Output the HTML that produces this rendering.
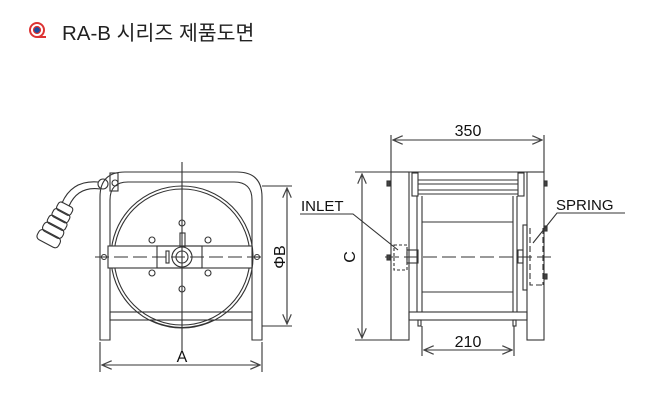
<!DOCTYPE html>
<html><head><meta charset="utf-8"><style>
body{margin:0;background:#fff;width:653px;height:407px;overflow:hidden;font-family:"Liberation Sans","Noto Sans CJK KR",sans-serif}
.t{position:absolute;left:62px;top:16px;font-size:20.5px;color:#222;font-family:"Liberation Sans","Noto Sans CJK KR",sans-serif}
</style></head><body>
<div class="t">RA-B 시리즈 제품도면</div>
<svg width="653" height="407" style="position:absolute;left:0;top:0" fill="none" stroke="#333" stroke-width="1.1">
<defs><marker id="a" markerWidth="10" markerHeight="8" refX="9" refY="4" orient="auto-start-reverse"><path d="M0,0L9,4L0,8" stroke="#444" fill="none"/></marker></defs>
<!-- icon -->
<circle cx="37" cy="30" r="7" stroke="#d33" stroke-width="2"/><circle cx="37" cy="30" r="3.5" fill="#1a4ea0" stroke="#d33" stroke-width="1.2"/><path d="M37,37H46" stroke="#d33" stroke-width="2"/>
<!-- LEFT VIEW -->
<path d="M100,340V197Q100,172 125,172H237Q262,172 262,197V340H252V200Q252,182 234,182H128Q110,182 110,200V340Z"/>
<circle cx="182" cy="257" r="71"/><circle cx="182" cy="257" r="68"/>
<path d="M150,320Q182,335 214,320"/>
<rect x="108" y="246" width="144" height="22" fill="#fff"/>
<rect x="157" y="246" width="45" height="22"/>
<circle cx="182" cy="257" r="10"/><circle cx="182" cy="257" r="6"/>
<rect x="180" y="233" width="5" height="14"/><rect x="166" y="251" width="3" height="12"/>
<g><circle cx="182" cy="223" r="3"/><circle cx="152" cy="240" r="3"/><circle cx="208" cy="240" r="3"/><circle cx="152" cy="273" r="3"/><circle cx="208" cy="273" r="3"/><circle cx="182" cy="289" r="3"/><circle cx="104" cy="257" r="2.5"/><circle cx="257" cy="257" r="2.5"/></g>
<rect x="110" y="312" width="142" height="8"/>
<path d="M182,162V352"/><path d="M95,257H265" stroke-dasharray="14,5"/>
<path d="M262,186H292M262,326H292"/><path d="M287,188V324" marker-start="url(#a)" marker-end="url(#a)"/>
<path d="M100,342V372M262,342V372"/><path d="M102,365H260" marker-start="url(#a)" marker-end="url(#a)"/>
<!-- cable -->
<path d="M98,182Q72,180 62,203M100,189Q78,186 69,206"/>
<circle cx="103" cy="184" r="5"/><rect x="110" y="173" width="8" height="18"/><circle cx="115" cy="183" r="3"/>
<g transform="rotate(28 56 225)"><rect x="48" y="202" width="16" height="9" rx="3"/><rect x="47" y="210" width="18" height="9" rx="3"/><rect x="46" y="218" width="20" height="9" rx="3"/><rect x="45" y="226" width="22" height="10" rx="4"/><rect x="44" y="235" width="24" height="11" rx="4"/></g>
<!-- RIGHT VIEW -->
<path d="M391,135V172M544,135V172"/><path d="M393,140H542" marker-start="url(#a)" marker-end="url(#a)"/>
<rect x="391" y="172" width="18" height="168"/><rect x="527" y="172" width="17" height="168"/>
<path d="M409,172H527"/>
<path d="M417,196V312M422,196V312M513,196V312M517,196V312"/>
<rect x="412" y="173" width="6" height="23"/><rect x="518" y="173" width="6" height="23"/>
<path d="M418,180H518M418,184H518M418,190H518M418,194H518M422,222H513M422,292H513"/>
<rect x="409" y="312" width="118" height="8"/><rect x="418" y="320" width="3" height="6"/><rect x="513" y="320" width="3" height="6"/>
<path d="M385,257H553" stroke-dasharray="14,5"/>
<rect x="394" y="245" width="13" height="25" stroke-dasharray="3,2"/><rect x="407" y="250" width="11" height="13"/>
<rect x="518" y="250" width="5" height="13"/><rect x="523" y="225" width="4" height="65"/>
<path d="M530,228V285H543M543,228V285" stroke-dasharray="6,3"/>
<g fill="#444"><rect x="387" y="181" width="3" height="5"/><rect x="387" y="255" width="3" height="5"/><rect x="544" y="181" width="3" height="5"/><rect x="544" y="226" width="3" height="5"/><rect x="544" y="274" width="3" height="5"/></g>
<path d="M355,172H391M355,340H391"/><path d="M362,174V338" marker-start="url(#a)" marker-end="url(#a)"/>
<path d="M422,326V356M514,326V356"/><path d="M424,350H512" marker-start="url(#a)" marker-end="url(#a)"/>
<path d="M300,214H353L398,250"/><path d="M625,213H557L533,243"/>
</svg>
<svg width="653" height="407" style="position:absolute;left:0;top:0" font-family="Liberation Sans, sans-serif" fill="#111">
<text x="182" y="362" font-size="16" text-anchor="middle">A</text>
<text x="0" y="0" font-size="16" text-anchor="middle" transform="translate(285,257) rotate(-90)">ΦB</text>
<text x="468" y="136" font-size="16" text-anchor="middle">350</text>
<text x="468" y="347" font-size="16" text-anchor="middle">210</text>
<text x="0" y="0" font-size="16" text-anchor="middle" transform="translate(355,257) rotate(-90)">C</text>
<text x="301" y="211" font-size="15">INLET</text>
<text x="556" y="210" font-size="15">SPRING</text>
</svg>
</body></html>
